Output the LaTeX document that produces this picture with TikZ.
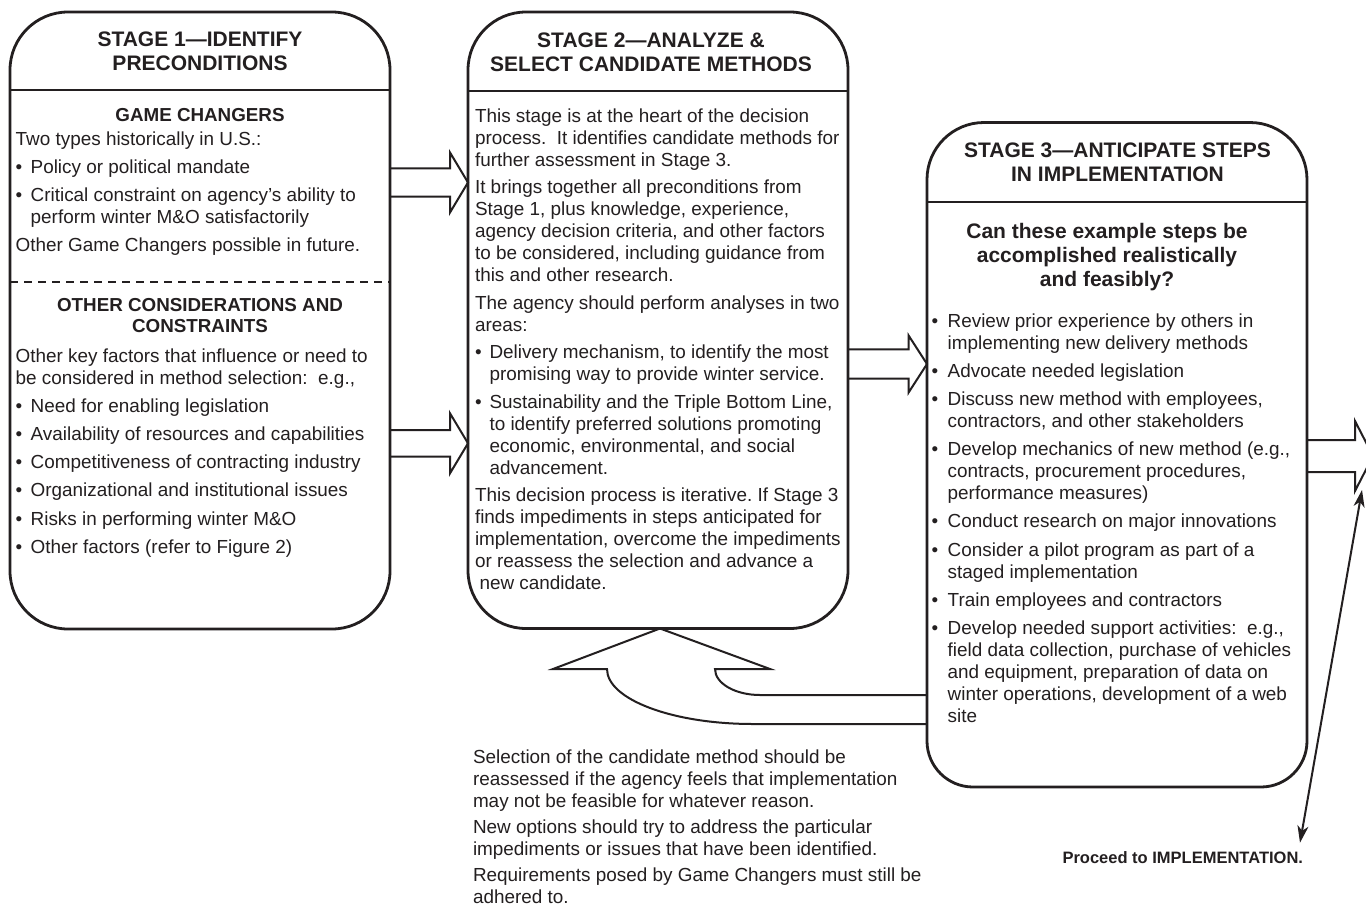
\documentclass[tikz,border=0pt]{standalone}
\usepackage{fontspec}
\setmainfont{Liberation Sans}
\usetikzlibrary{calc,arrows.meta}
\definecolor{ink}{HTML}{231F20}
\frenchspacing
\newcommand{\bodyf}{\fontsize{18.9}{22}\selectfont}
\newcommand{\botf}{\fontsize{18.9}{21.8}\selectfont}
\newcommand{\headf}{\fontsize{21}{24}\selectfont\bfseries}
\newcommand{\quesf}{\fontsize{21}{24}\selectfont\bfseries}
\newcommand{\subf}{\fontsize{18.8}{21}\selectfont\bfseries}
\newcommand{\implf}{\fontsize{16.5}{19}\selectfont\bfseries}
\newcommand{\bl}[1]{\makebox[#1pt][l]{•}}
\newcommand{\ii}[1]{\hspace*{#1pt}}
\newcommand{\blockarrow}[5]{%
  \draw[blockarrow] ($(#1)+(0,#3)$) -- ($(#2)+(-#5,#3)$) -- ($(#2)+(-#5,#4)$) -- (#2)
    -- ($(#2)+(-#5,-#4)$) -- ($(#2)+(-#5,-#3)$) -- ($(#1)+(0,-#3)$);}
\begin{document}
\begin{tikzpicture}[x=1pt,y=-1pt,
  stagebox/.style={draw=none, rectangle, inner sep=0pt, outer sep=0pt},
  outline/.style={draw=ink, line width=2.8pt},
  divider/.style={draw=ink, line width=2.3pt},
  sepline/.style={draw=ink, line width=2pt, dash pattern=on 8pt off 6pt},
  blockarrow/.style={draw=ink, line width=2pt, line join=miter},
  thinarrow/.style={draw=ink, line width=2pt,
    {Stealth[length=17pt,width=11pt,inset=5pt]}-{Stealth[length=17pt,width=11pt,inset=5pt]}},
  body/.style={inner sep=0pt, outer sep=0pt, anchor=north west, align=left, font=\bodyf, text=ink},
  head/.style={inner sep=0pt, outer sep=0pt, anchor=north, align=center, font=\headf, text=ink},
  subhead/.style={inner sep=0pt, outer sep=0pt, anchor=north, align=center, font=\subf, text=ink}]
\fill[white] (0,0) rectangle (1366,905);
\clip (0,0) rectangle (1366,905);

% stage frames (positioning nodes)
\node[stagebox, minimum width=380pt, minimum height=617pt] (s1) at (200,320.5) {};
\node[stagebox, minimum width=380pt, minimum height=616.5pt] (s2) at (658,320.25) {};
\node[stagebox, minimum width=380pt, minimum height=664.5pt] (s3) at (1117,454.75) {};

% helper levels
\coordinate (ya) at (0,182.5);
\coordinate (yb) at (0,443.3);
\coordinate (yc) at (0,364);
\coordinate (yd) at (0,456);
\coordinate (yfo) at (0,724);
\coordinate (yfi) at (0,695);
\coordinate (dout) at (1373,456);
\coordinate (fbtip) at ($(s2.south)+(2,0)$);
\coordinate (dtop) at (1362,490);

% block arrows
\blockarrow{s1.east |- ya}{s2.west |- ya}{14.2}{30}{18}
\blockarrow{s1.east |- yb}{s2.west |- yb}{13.3}{30}{18}
\blockarrow{s2.east |- yc}{s3.west |- yc}{14.6}{28.5}{18.4}
\blockarrow{s3.east |- yd}{dout}{16}{35}{18}

% feedback arrow
\draw[blockarrow] (s3.west |- yfo) -- (753,724) .. controls (672.4,724) and (607,699.4) .. (607,669)
  -- (553,669) -- (fbtip) -- (770,669) -- (715,669)
  .. controls (715,683.4) and (735.2,695) .. (760,695) -- (s3.west |- yfi);

% outlines
\draw[outline] (s1.west) [rounded corners=58pt] |- (s1.north) -| (s1.east) |- (s1.south) -| ($(s1.west)+(0,-5)$);
\draw[outline] (s2.west) [rounded corners=58pt] |- (s2.north) -| (s2.east) |- (s2.south) -| ($(s2.west)+(0,-5)$);
\draw[outline] (s3.west) [rounded corners=57pt] |- (s3.north) -| (s3.east) [rounded corners=46pt] |- (s3.south) -| ($(s3.west)+(0,-5)$);

% dividers
\draw[divider] ($(s1.north west)+(0,78)$) -- ($(s1.north east)+(0,78)$);
\draw[divider] ($(s2.north west)+(0,79)$) -- ($(s2.north east)+(0,79)$);
\draw[divider] ($(s3.north west)+(0,79.5)$) -- ($(s3.north east)+(0,79.5)$);
\draw[sepline] ($(s1.north west)+(0,269.7)$) -- ($(s1.north east)+(0,269.7)$);

% stage 1 texts
\node[head] (h1) at (200,32) {STAGE 1—IDENTIFY\\PRECONDITIONS};
\node[subhead] (gc) at (200,108.3) {GAME CHANGERS};
\node[body] (t1a) at (15.7,132.3) {Two types historically in U.S.:\\[6pt]
\bl{15}Policy or political mandate\\[6pt]
\bl{15}Critical constraint on agency’s ability to\\
\ii{15}perform winter M\&O satisfactorily\\[6pt]
Other Game Changers possible in future.};
\node[subhead] (oc) at (200,298.3) {OTHER CONSIDERATIONS AND\\CONSTRAINTS};
\node[body] (t1b) at (15.7,348.3) {Other key factors that influence or need to\\
be considered in method selection:\ \ e.g.,\\[6.2pt]
\bl{15}Need for enabling legislation\\[6.2pt]
\bl{15}Availability of resources and capabilities\\[6.2pt]
\bl{15}Competitiveness of contracting industry\\[6.2pt]
\bl{15}Organizational and institutional issues\\[6.2pt]
\bl{15}Risks in performing winter M\&O\\[6.2pt]
\bl{15}Other factors (refer to Figure 2)};

% stage 2 texts
\node[head] (h2) at (651,33) {STAGE 2—ANALYZE \&\\SELECT CANDIDATE METHODS};
\node[body] (t2) at (475,108.3) {This stage is at the heart of the decision\\
process.\ \ It identifies candidate methods for\\
further assessment in Stage 3.\\[5.5pt]
It brings together all preconditions from\\
Stage 1, plus knowledge, experience,\\
agency decision criteria, and other factors\\
to be considered, including guidance from\\
this and other research.\\[5.5pt]
The agency should perform analyses in two\\
areas:\\[5.5pt]
\bl{14.5}Delivery mechanism, to identify the most\\
\ii{14.5}promising way to provide winter service.\\[5.5pt]
\bl{14.5}Sustainability and the Triple Bottom Line,\\
\ii{14.5}to identify preferred solutions promoting\\
\ii{14.5}economic, environmental, and social\\
\ii{14.5}advancement.\\[5.5pt]
This decision process is iterative. If Stage 3\\
finds impediments in steps anticipated for\\
implementation, overcome the impediments\\
or reassess the selection and advance a\\
\ii{4.5}new candidate.};

% stage 3 texts
\node[head] (h3) at (1117.5,143.3) {STAGE 3—ANTICIPATE STEPS\\IN IMPLEMENTATION};
\node[head, font=\quesf] (q3) at (1107,223.3) {Can these example steps be\\accomplished realistically\\and feasibly?};
\node[body] (t3) at (931.7,313.3) {\bl{16}Review prior experience by others in\\
\ii{16}implementing new delivery methods\\[6.2pt]
\bl{16}Advocate needed legislation\\[6.2pt]
\bl{16}Discuss new method with employees,\\
\ii{16}contractors, and other stakeholders\\[6.2pt]
\bl{16}Develop mechanics of new method (e.g.,\\
\ii{16}contracts, procurement procedures,\\
\ii{16}performance measures)\\[6.2pt]
\bl{16}Conduct research on major innovations\\[6.2pt]
\bl{16}Consider a pilot program as part of a\\
\ii{16}staged implementation\\[6.2pt]
\bl{16}Train employees and contractors\\[6.2pt]
\bl{16}Develop needed support activities:\ \ e.g.,\\
\ii{16}field data collection, purchase of vehicles\\
\ii{16}and equipment, preparation of data on\\
\ii{16}winter operations, development of a web\\
\ii{16}site};

% bottom note
\node[body, font=\botf] (note) at (473,750) {Selection of the candidate method should be\\
reassessed if the agency feels that implementation\\
may not be feasible for whatever reason.\\[4.5pt]
New options should try to address the particular\\
impediments or issues that have been identified.\\[4.5pt]
Requirements posed by Game Changers must still be\\
adhered to.};

\node[inner sep=0pt, outer sep=0pt, anchor=north east, font=\implf, text=ink] (impl) at (1303,851.7) {Proceed to IMPLEMENTATION.};
\draw[thinarrow] (dtop) -- ($(impl.north east)+(-3,-9)$);
\end{tikzpicture}
\end{document}
